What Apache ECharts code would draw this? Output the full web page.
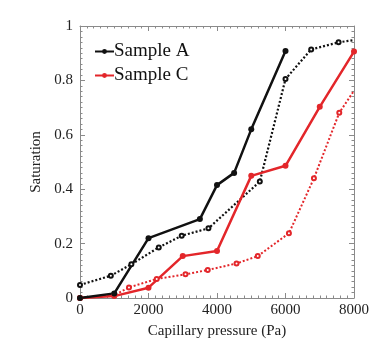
<!DOCTYPE html>
<html><head><meta charset="utf-8">
<script src="https://cdn.jsdelivr.net/npm/echarts@6/dist/echarts.min.js"></script>
<style>html,body{margin:0;padding:0;background:#fff}#c{width:390px;height:349px}</style>
</head><body><div id="c"></div>
<script>
var xTicks = [0, 2000, 4000, 6000, 8000];
var yTicks = [0, 0.2, 0.4, 0.6, 0.8, 1];
var pressureA = [0, 1000, 2000, 3500, 4000, 4500, 5000, 6000];
var satA = [0, 0.017, 0.22, 0.29, 0.415, 0.46, 0.62, 0.908];
var pressureAdot = [0, 900, 1500, 2300, 2970, 3750, 5250, 6000, 6750, 7550, 8000];
var satAdot = [0.048, 0.082, 0.124, 0.186, 0.229, 0.256, 0.428, 0.805, 0.914, 0.94, 0.948];
var pressureC = [0, 1000, 2000, 3000, 4000, 5000, 6000, 7000, 8000];
var satC = [0, 0.007, 0.038, 0.154, 0.173, 0.449, 0.486, 0.703, 0.906];
var pressureCdot = [0, 1000, 1430, 2240, 3080, 3730, 4570, 5190, 6100, 6830, 7570, 8000];
var satCdot = [0, 0.01, 0.039, 0.07, 0.087, 0.103, 0.127, 0.154, 0.238, 0.44, 0.681, 0.762];

function pairs(xs, ys) { return xs.map(function (x, i) { return [x, ys[i]]; }); }
function endNoMark(arr) {
  return arr.map(function (p, i) {
    return i === arr.length - 1 ? { value: p, symbol: 'none' } : p;
  });
}

var BLACK = '#111', RED = '#e3262a';
var font = 'Liberation Serif';
var axCol = '#8a8a8a';

function xAx(pos, labels) {
  return {
    type: 'value', position: pos, min: xTicks[0], max: xTicks[xTicks.length - 1], interval: xTicks[1] - xTicks[0],
    axisLine: { show: true, onZero: false, lineStyle: { color: axCol, width: 1 } },
    axisTick: { show: true, inside: true, length: 5, lineStyle: { color: axCol } },
    minorTick: { show: true, splitNumber: 10, length: 2.5, lineStyle: { color: axCol } },
    splitLine: { show: false },
    axisLabel: { show: labels, color: '#222', fontFamily: font, fontSize: 15, margin: 5,
      formatter: function (v) { return String(v); } },
    name: labels ? 'Capillary pressure (Pa)' : '', nameLocation: 'middle', nameGap: 26,
    nameTextStyle: { color: '#222', fontFamily: font, fontSize: 15 }
  };
}
function yAx(pos, labels) {
  return {
    type: 'value', position: pos, min: yTicks[0], max: yTicks[yTicks.length - 1], interval: 0.2,
    axisLine: { show: true, onZero: false, lineStyle: { color: axCol, width: 1 } },
    axisTick: { show: true, inside: true, length: 5, lineStyle: { color: axCol } },
    minorTick: { show: true, splitNumber: 10, length: 2.5, lineStyle: { color: axCol } },
    splitLine: { show: false },
    axisLabel: { show: labels, color: '#222', fontFamily: font, fontSize: 15, margin: 7,
      formatter: function (v) { return String(Math.round(v * 10) / 10); } },
    name: labels ? 'Saturation' : '', nameLocation: 'middle', nameGap: 34,
    nameTextStyle: { color: '#222', fontFamily: font, fontSize: 15 }
  };
}

var chart = echarts.init(document.getElementById('c'), null, { renderer: 'canvas' });
chart.setOption({
  animation: false,
  backgroundColor: '#fff',
  grid: { left: 80, right: 36, top: 26, bottom: 51 },
  xAxis: [xAx('bottom', true), xAx('top', false)],
  yAxis: [yAx('left', true), yAx('right', false)],
  legend: {
    data: ['Sample A', 'Sample C'], orient: 'vertical', left: 89, top: 37,
    itemWidth: 19, itemHeight: 6, itemGap: 5,
    textStyle: { fontFamily: font, fontSize: 19, color: '#111', padding: [0, 0, 0, -5] }
  },
  series: [
    { name: 'Sample A dotted', type: 'line', data: endNoMark(pairs(pressureAdot, satAdot)),
      symbol: 'emptyCircle', symbolSize: 4,
      lineStyle: { color: BLACK, width: 2.2, type: [2, 2] },
      itemStyle: { color: BLACK, borderColor: BLACK, borderWidth: 1.5 } },
    { name: 'Sample C dotted', type: 'line', data: endNoMark(pairs(pressureCdot, satCdot)),
      symbol: 'emptyCircle', symbolSize: 4,
      lineStyle: { color: RED, width: 2, type: [2, 2] },
      itemStyle: { color: RED, borderColor: RED, borderWidth: 1.5 } },
    { name: 'Sample C', type: 'line', data: pairs(pressureC, satC),
      symbol: 'circle', symbolSize: 6,
      lineStyle: { color: RED, width: 2.5 }, itemStyle: { color: RED } },
    { name: 'Sample A', type: 'line', data: pairs(pressureA, satA),
      symbol: 'circle', symbolSize: 6,
      lineStyle: { color: BLACK, width: 2.5 }, itemStyle: { color: BLACK } }
  ]
});
</script></body></html>
